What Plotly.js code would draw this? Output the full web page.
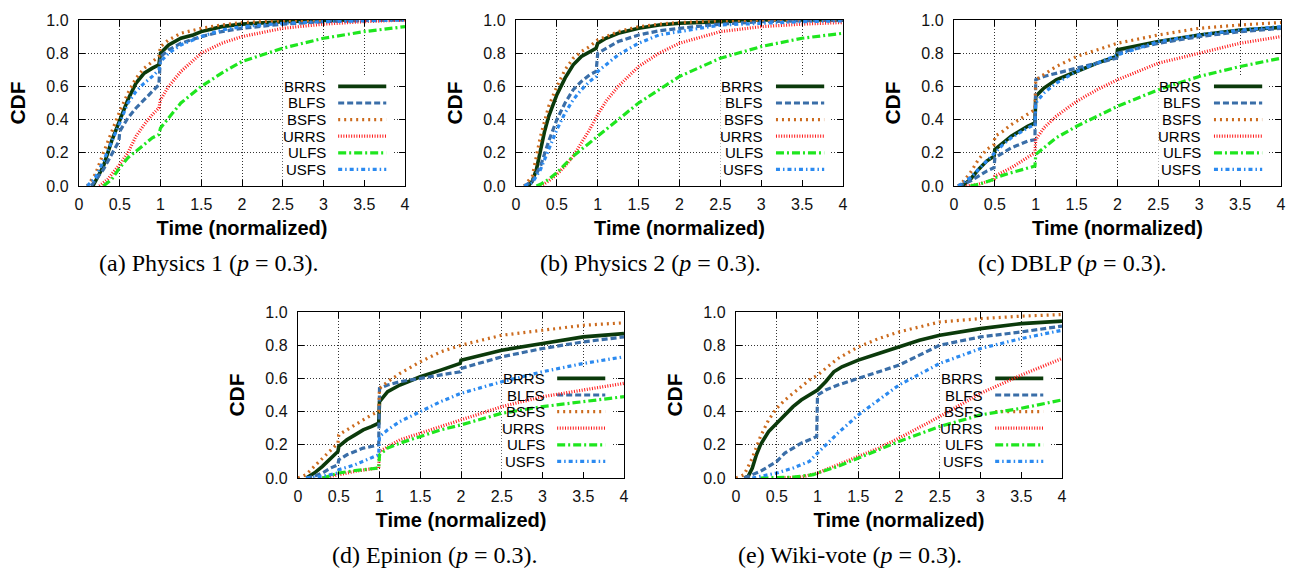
<!DOCTYPE html>
<html>
<head>
<meta charset="utf-8">
<script src="https://cdn.plot.ly/plotly-3.0.1.min.js"></script>
<style>html,body{margin:0;padding:0;background:#fff;}#chart{width:1289px;height:568px;}</style>
</head>
<body>
<div id="chart"></div>
<script>
// ---------- data ----------
const seriesNames = ['BRRS', 'BLFS', 'BSFS', 'URRS', 'ULFS', 'USFS'];
const panelCaptions = ['(a) Physics 1 (<i>p</i> = 0.3).', '(b) Physics 2 (<i>p</i> = 0.3).', '(c) DBLP (<i>p</i> = 0.3).', '(d) Epinion (<i>p</i> = 0.3).', '(e) Wiki-vote (<i>p</i> = 0.3).'];
const xTickVals = [0, 0.5, 1, 1.5, 2, 2.5, 3, 3.5, 4];
const yTickVals = [0, 0.2, 0.4, 0.6, 0.8, 1.0];

// (a) Physics 1
const a_BRRS_x = [0.17,0.25,0.3,0.4,0.5,0.6,0.7,0.8,0.9,0.98,1,1.1,1.25,1.4,1.5,1.75,2,2.5,3,3.38];
const a_BRRS_y = [0,0.07,0.12,0.27,0.40,0.52,0.62,0.68,0.71,0.73,0.80,0.85,0.89,0.91,0.93,0.96,0.975,0.99,0.997,1.0];
const a_BLFS_x = [0.15,0.3,0.4,0.49,0.5,0.6,0.7,0.8,0.9,0.98,1,1.1,1.25,1.5,1.75,2,2.5,3,3.5,4];
const a_BLFS_y = [0,0.10,0.19,0.27,0.33,0.41,0.47,0.52,0.57,0.61,0.78,0.82,0.86,0.90,0.93,0.95,0.975,0.99,0.997,1.0];
const a_BSFS_x = [0.1,0.2,0.3,0.4,0.5,0.6,0.7,0.8,0.9,0.98,1,1.1,1.25,1.5,1.75,2,2.5,3];
const a_BSFS_y = [0,0.07,0.2,0.33,0.45,0.56,0.65,0.71,0.75,0.78,0.84,0.88,0.92,0.95,0.97,0.985,0.995,1.0];
const a_URRS_x = [0.25,0.35,0.45,0.5,0.6,0.7,0.8,0.9,0.98,1,1.1,1.25,1.5,1.75,2,2.5,3,3.5,4];
const a_URRS_y = [0,0.04,0.1,0.13,0.2,0.3,0.37,0.43,0.47,0.52,0.6,0.69,0.80,0.86,0.90,0.95,0.975,0.99,1.0];
const a_ULFS_x = [0.3,0.4,0.5,0.6,0.7,0.8,0.9,0.98,1,1.1,1.25,1.5,1.75,2,2.5,3,3.5,4];
const a_ULFS_y = [0,0.04,0.11,0.17,0.21,0.25,0.29,0.31,0.35,0.41,0.50,0.60,0.68,0.75,0.83,0.89,0.93,0.96];
const a_USFS_x = [0.1,0.2,0.3,0.4,0.5,0.6,0.7,0.8,0.9,0.98,1,1.1,1.25,1.5,1.75,2,2.5,3,4];
const a_USFS_y = [0,0.05,0.15,0.26,0.38,0.50,0.57,0.62,0.66,0.70,0.75,0.80,0.85,0.90,0.94,0.96,0.98,0.99,1.0];

// (b) Physics 2
const b_BRRS_x = [0.15,0.2,0.25,0.3,0.35,0.4,0.5,0.6,0.7,0.8,0.9,0.98,1,1.1,1.25,1.5,1.75,2,2.5,3,4];
const b_BRRS_y = [0,0.03,0.1,0.22,0.33,0.42,0.55,0.65,0.73,0.78,0.81,0.83,0.86,0.89,0.92,0.95,0.97,0.98,0.99,1.0,1.0];
const b_BLFS_x = [0.1,0.2,0.3,0.4,0.5,0.6,0.7,0.8,0.9,0.98,1,1.1,1.25,1.5,1.75,2,2.5,3,3.5,4];
const b_BLFS_y = [0,0.03,0.12,0.27,0.40,0.50,0.58,0.63,0.67,0.69,0.80,0.83,0.87,0.91,0.935,0.95,0.975,0.99,0.995,1.0];
const b_BSFS_x = [0.1,0.2,0.3,0.4,0.5,0.6,0.7,0.8,0.9,1,1.25,1.5,1.75,2,2.5,3,4];
const b_BSFS_y = [0,0.06,0.3,0.48,0.6,0.7,0.77,0.81,0.84,0.88,0.93,0.96,0.975,0.985,0.995,1.0,1.0];
const b_URRS_x = [0.3,0.4,0.5,0.6,0.7,0.8,0.9,1,1.1,1.25,1.5,1.75,2,2.5,3,3.5,4];
const b_URRS_y = [0,0.03,0.07,0.12,0.18,0.26,0.34,0.43,0.51,0.60,0.72,0.80,0.86,0.93,0.96,0.975,0.985];
const b_ULFS_x = [0.25,0.3,0.4,0.5,0.6,0.7,0.8,0.9,1,1.25,1.5,1.75,2,2.5,3,3.5,4];
const b_ULFS_y = [0,0.01,0.04,0.08,0.13,0.18,0.22,0.26,0.30,0.40,0.50,0.58,0.66,0.77,0.84,0.89,0.92];
const b_USFS_x = [0.1,0.2,0.3,0.4,0.5,0.6,0.7,0.8,0.9,0.98,1,1.25,1.5,1.75,2,2.5,3,3.5,4];
const b_USFS_y = [0,0.02,0.10,0.22,0.34,0.44,0.52,0.58,0.63,0.66,0.69,0.79,0.86,0.91,0.93,0.97,0.98,0.99,0.995];

// (c) DBLP
const c_BRRS_x = [0.1,0.2,0.3,0.4,0.49,0.5,0.6,0.7,0.8,0.9,0.99,1,1.1,1.25,1.5,1.75,1.99,2,2.5,3,3.5,4];
const c_BRRS_y = [0,0.04,0.10,0.15,0.18,0.22,0.26,0.30,0.33,0.36,0.38,0.54,0.59,0.64,0.69,0.74,0.78,0.82,0.87,0.91,0.94,0.955];
const c_BLFS_x = [0.05,0.2,0.3,0.4,0.49,0.5,0.6,0.7,0.8,0.9,0.99,1,1.1,1.25,1.5,1.75,1.99,2,2.5,3,3.5,4];
const c_BLFS_y = [0,0.03,0.06,0.09,0.11,0.17,0.20,0.23,0.25,0.27,0.28,0.64,0.66,0.68,0.71,0.74,0.77,0.80,0.86,0.90,0.93,0.95];
const c_BSFS_x = [0.05,0.1,0.2,0.3,0.4,0.49,0.5,0.6,0.7,0.8,0.9,0.99,1,1.1,1.25,1.5,1.75,2,2.5,3,3.5,4];
const c_BSFS_y = [0,0.02,0.08,0.16,0.22,0.25,0.30,0.33,0.37,0.40,0.43,0.46,0.64,0.67,0.72,0.78,0.82,0.86,0.91,0.95,0.97,0.985];
const c_URRS_x = [0.15,0.3,0.49,0.5,0.7,0.9,0.99,1,1.1,1.25,1.5,1.75,2,2.5,3,3.5,4];
const c_URRS_y = [0,0.01,0.04,0.06,0.11,0.17,0.20,0.28,0.35,0.42,0.51,0.58,0.64,0.74,0.80,0.86,0.90];
const c_ULFS_x = [0.2,0.3,0.49,0.5,0.7,0.9,0.99,1,1.1,1.25,1.5,1.75,2,2.5,3,3.5,4];
const c_ULFS_y = [0,0.01,0.04,0.05,0.08,0.11,0.12,0.19,0.23,0.29,0.36,0.42,0.48,0.58,0.66,0.72,0.77];
const c_USFS_x = [0.05,0.2,0.3,0.4,0.5,0.6,0.7,0.8,0.9,0.99,1,1.1,1.25,1.5,1.75,2,2.5,3,3.5,4];
const c_USFS_y = [0,0.05,0.10,0.15,0.20,0.25,0.29,0.32,0.35,0.37,0.50,0.56,0.62,0.69,0.74,0.79,0.87,0.91,0.94,0.96];

// (d) Epinion
const d_BRRS_x = [0.1,0.2,0.3,0.4,0.49,0.5,0.6,0.7,0.8,0.9,0.99,1,1.1,1.25,1.5,1.75,1.99,2,2.5,3,3.5,4];
const d_BRRS_y = [0,0.03,0.07,0.12,0.16,0.19,0.23,0.26,0.29,0.31,0.33,0.46,0.52,0.56,0.61,0.65,0.69,0.71,0.77,0.81,0.85,0.87];
const d_BLFS_x = [0.1,0.2,0.3,0.4,0.49,0.5,0.6,0.7,0.8,0.9,0.99,1,1.1,1.25,1.5,1.75,1.99,2,2.5,3,3.5,4];
const d_BLFS_y = [0,0.01,0.03,0.06,0.08,0.11,0.14,0.16,0.18,0.19,0.20,0.54,0.56,0.58,0.60,0.62,0.64,0.66,0.73,0.78,0.82,0.85];
const d_BSFS_x = [0,0.1,0.2,0.3,0.4,0.49,0.5,0.6,0.7,0.8,0.9,0.99,1,1.1,1.25,1.5,1.75,2,2.5,3,3.5,4];
const d_BSFS_y = [0,0.02,0.07,0.12,0.17,0.21,0.26,0.29,0.32,0.35,0.38,0.40,0.54,0.58,0.63,0.70,0.76,0.80,0.86,0.89,0.92,0.935];
const d_URRS_x = [0.3,0.5,0.7,0.9,0.99,1,1.1,1.25,1.5,1.75,2,2.5,3,3.5,4];
const d_URRS_y = [0,0.02,0.04,0.055,0.06,0.16,0.19,0.23,0.27,0.31,0.35,0.43,0.49,0.53,0.57];
const d_ULFS_x = [0.3,0.5,0.7,0.9,0.99,1,1.1,1.25,1.5,1.75,2,2.5,3,3.5,4];
const d_ULFS_y = [0,0.03,0.045,0.055,0.06,0.14,0.18,0.21,0.25,0.29,0.32,0.39,0.43,0.46,0.49];
const d_USFS_x = [0.1,0.3,0.49,0.5,0.7,0.9,0.99,1,1.1,1.25,1.5,1.75,2,2.5,3,3.5,4];
const d_USFS_y = [0,0.01,0.03,0.05,0.08,0.12,0.14,0.25,0.29,0.34,0.40,0.46,0.51,0.58,0.64,0.69,0.73];

// (e) Wiki-vote
const e_BRRS_x = [0.1,0.15,0.2,0.25,0.3,0.4,0.5,0.6,0.7,0.8,0.9,1,1.1,1.2,1.3,1.5,1.75,2,2.25,2.5,3,3.5,4];
const e_BRRS_y = [0,0.01,0.06,0.14,0.2,0.28,0.33,0.38,0.43,0.47,0.50,0.53,0.58,0.64,0.67,0.71,0.75,0.79,0.83,0.86,0.90,0.93,0.945];
const e_BLFS_x = [0.1,0.2,0.3,0.4,0.5,0.6,0.7,0.8,0.9,0.99,1,1.1,1.25,1.5,1.75,2,2.25,2.5,3,3.5,4];
const e_BLFS_y = [0,0.02,0.04,0.07,0.10,0.15,0.18,0.21,0.23,0.25,0.50,0.53,0.56,0.60,0.64,0.68,0.74,0.80,0.85,0.88,0.915];
const e_BSFS_x = [0,0.1,0.2,0.3,0.4,0.5,0.6,0.7,0.8,0.9,1,1.25,1.5,1.75,2,2.5,3,3.5,4];
const e_BSFS_y = [0,0.02,0.12,0.25,0.35,0.42,0.47,0.51,0.55,0.59,0.62,0.72,0.79,0.84,0.88,0.94,0.96,0.975,0.985];
const e_URRS_x = [0.5,0.8,1,1.25,1.5,1.75,2,2.5,3,3.5,4];
const e_URRS_y = [0,0.005,0.03,0.08,0.13,0.18,0.24,0.37,0.51,0.62,0.72];
const e_ULFS_x = [0.3,0.7,0.95,1,1.25,1.5,1.75,2,2.5,3,3.5,4];
const e_ULFS_y = [0,0.005,0.02,0.03,0.07,0.12,0.17,0.22,0.31,0.38,0.42,0.47];
const e_USFS_x = [0.2,0.3,0.5,0.7,0.9,1,1.1,1.25,1.5,1.75,2,2.5,3,3.5,4];
const e_USFS_y = [0,0.01,0.03,0.06,0.10,0.15,0.20,0.27,0.38,0.47,0.56,0.69,0.78,0.84,0.89];

// ---------- styling ----------
const styles = {
  BRRS: {color: '#0b3a0b', width: 3.6, dash: 'solid'},
  BLFS: {color: '#3a6ea8', width: 3.2, dash: '6px,3px'},
  BSFS: {color: '#cc6b1e', width: 3.2, dash: '2px,4px'},
  URRS: {color: '#ff1a1a', width: 3.2, dash: '1px,1.6px'},
  ULFS: {color: '#1ee61e', width: 3.2, dash: '8px,3px,2px,3px'},
  USFS: {color: '#2b8af0', width: 3.2, dash: '4px,3px,1.5px,3px'}
};

const panels = [
  {key: 'a', xa: 'x',  ya: 'y',  xd: [0.06129, 0.31420], yd: [0.67254, 0.96479], cx: 0.1621, cy: 0.5370},
  {key: 'b', xa: 'x2', ya: 'y2', xd: [0.40031, 0.65400], yd: [0.67254, 0.96479], cx: 0.5043, cy: 0.5370},
  {key: 'c', xa: 'x3', ya: 'y3', xd: [0.74011, 0.99379], yd: [0.67254, 0.96479], cx: 0.8317, cy: 0.5370},
  {key: 'd', xa: 'x4', ya: 'y4', xd: [0.23119, 0.48410], yd: [0.15845, 0.45070], cx: 0.3375, cy: 0.0229},
  {key: 'e', xa: 'x5', ya: 'y5', xd: [0.57099, 0.82390], yd: [0.15845, 0.45070], cx: 0.6594, cy: 0.0229}
];

const dataArrays = {
  a: {BRRS: [a_BRRS_x, a_BRRS_y], BLFS: [a_BLFS_x, a_BLFS_y], BSFS: [a_BSFS_x, a_BSFS_y], URRS: [a_URRS_x, a_URRS_y], ULFS: [a_ULFS_x, a_ULFS_y], USFS: [a_USFS_x, a_USFS_y]},
  b: {BRRS: [b_BRRS_x, b_BRRS_y], BLFS: [b_BLFS_x, b_BLFS_y], BSFS: [b_BSFS_x, b_BSFS_y], URRS: [b_URRS_x, b_URRS_y], ULFS: [b_ULFS_x, b_ULFS_y], USFS: [b_USFS_x, b_USFS_y]},
  c: {BRRS: [c_BRRS_x, c_BRRS_y], BLFS: [c_BLFS_x, c_BLFS_y], BSFS: [c_BSFS_x, c_BSFS_y], URRS: [c_URRS_x, c_URRS_y], ULFS: [c_ULFS_x, c_ULFS_y], USFS: [c_USFS_x, c_USFS_y]},
  d: {BRRS: [d_BRRS_x, d_BRRS_y], BLFS: [d_BLFS_x, d_BLFS_y], BSFS: [d_BSFS_x, d_BSFS_y], URRS: [d_URRS_x, d_URRS_y], ULFS: [d_ULFS_x, d_ULFS_y], USFS: [d_USFS_x, d_USFS_y]},
  e: {BRRS: [e_BRRS_x, e_BRRS_y], BLFS: [e_BLFS_x, e_BLFS_y], BSFS: [e_BSFS_x, e_BSFS_y], URRS: [e_URRS_x, e_URRS_y], ULFS: [e_ULFS_x, e_ULFS_y], USFS: [e_USFS_x, e_USFS_y]}
};

const SANS = 'Liberation Sans, Arial, sans-serif';
const SERIF = 'Liberation Serif, Times New Roman, serif';

const traces = [];
const shapes = [];
const annotations = [];
const layout = {
  width: 1289, height: 568,
  margin: {l: 0, r: 0, t: 0, b: 0},
  paper_bgcolor: '#fff', plot_bgcolor: '#fff',
  showlegend: false,
  font: {family: SANS, color: '#000'}
};

panels.forEach((p, i) => {
  const n = i === 0 ? '' : String(i + 1);
  seriesNames.forEach(s => {
    const [xs, ys] = dataArrays[p.key][s];
    traces.push({
      type: 'scatter', mode: 'lines', x: xs, y: ys, name: s,
      xaxis: p.xa, yaxis: p.ya,
      line: {color: styles[s].color, width: styles[s].width, dash: styles[s].dash},
      hoverinfo: 'skip'
    });
  });
  const common = {
    showline: true, linecolor: '#000', linewidth: 1.2, mirror: 'ticks',
    ticks: 'inside', ticklen: 6, tickcolor: '#000', tickwidth: 1,
    showgrid: true, gridcolor: 'rgba(0,0,0,0.8)', griddash: '1px,2px', gridwidth: 1,
    zeroline: false, fixedrange: true,
    tickfont: {family: SANS, size: 16, color: '#111'}
  };
  layout['xaxis' + n] = Object.assign({}, common, {
    domain: p.xd, anchor: 'y' + n, range: [0, 4],
    tickvals: xTickVals, ticktext: xTickVals.map(v => String(v)),
    ticklabelstandoff: 4,
    title: {text: 'Time (normalized)', font: {family: SANS, size: 20, color: '#000', weight: 'bold'}, standoff: 8}
  });
  layout['yaxis' + n] = Object.assign({}, common, {
    domain: p.yd, anchor: 'x' + n, range: [0, 1],
    tickvals: yTickVals, ticktext: yTickVals.map(v => v.toFixed(1)),
    ticklabelstandoff: 6,
    title: {text: 'CDF', font: {family: SANS, size: 21, color: '#000', weight: 'bold'}, standoff: 15}
  });
  // opaque key box (hides grid, beneath curves)
  shapes.push({type: 'rect', xref: p.xa, yref: p.ya, x0: 2.5, x1: 3.85, y0: 0.03, y1: 0.66,
    fillcolor: '#fff', line: {width: 0}, layer: 'between'});
  seriesNames.forEach((s, k) => {
    const yy = 0.6 - 0.1 * k;
    shapes.push({type: 'line', xref: p.xa, yref: p.ya, x0: 3.18, x1: 3.77, y0: yy, y1: yy,
      line: {color: styles[s].color, width: styles[s].width, dash: styles[s].dash}, layer: 'between'});
    annotations.push({xref: p.xa, yref: p.ya, x: 3.05, y: yy, text: s, showarrow: false,
      xanchor: 'right', yanchor: 'middle', font: {family: SANS, size: 15, color: '#000'}});
  });
  annotations.push({xref: 'paper', yref: 'paper', x: p.cx, y: p.cy, text: panelCaptions[i], showarrow: false,
    xanchor: 'center', yanchor: 'middle', font: {family: SERIF, size: 24, color: '#000'}});
});

layout.shapes = shapes;
layout.annotations = annotations;

Plotly.newPlot('chart', traces, layout, {displayModeBar: false, staticPlot: true});
</script>
</body>
</html>
